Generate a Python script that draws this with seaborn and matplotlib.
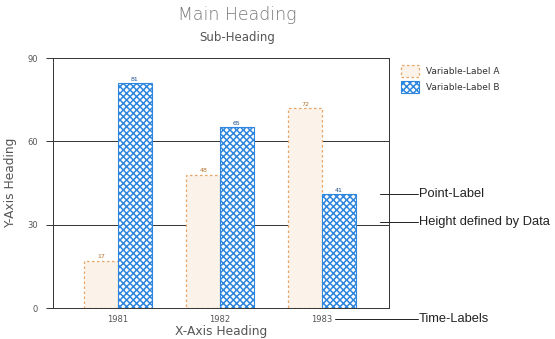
import numpy as np
import pandas as pd
import matplotlib
matplotlib.use("Agg")
import matplotlib.pyplot as plt
from matplotlib.lines import Line2D
from matplotlib.patches import Patch
import seaborn as sns

# data
years = ["1981", "1982", "1983"]
series = ["Variable-Label A", "Variable-Label B"]
values_a = [17, 48, 72]
values_b = [81, 65, 41]
y_ticks = [0, 30, 60, 90]

df = pd.DataFrame({
    "year": years * 2,
    "series": [series[0]] * 3 + [series[1]] * 3,
    "value": values_a + values_b,
})

sns.set_theme(style="white")
plt.rcParams["font.family"] = ["DejaVu Sans"]
plt.rcParams["hatch.linewidth"] = 1.1

orange = "#e9a466"
fill_a = "#fbf3ea"
blue = "#2f86de"
grey = "#555555"

fig = plt.figure(figsize=(5.55, 3.39), dpi=100)
ax = fig.add_axes([53 / 555, 1 - 308 / 339, 336 / 555, 250 / 339])

sns.barplot(data=df, x="year", y="value", hue="series", ax=ax,
            width=0.66, gap=0, legend=False, saturation=1,
            palette=[fill_a, "white"])

cont_a, cont_b = ax.containers
for bar in cont_a:
    bar.set_facecolor(fill_a)
    bar.set_edgecolor(orange)
    bar.set_linestyle((0, (2, 2)))
    bar.set_linewidth(0.9)
for bar in cont_b:
    bar.set_facecolor("white")
    bar.set_edgecolor(blue)
    bar.set_hatch("xxxxx")
    bar.set_linewidth(0.8)

ax.bar_label(cont_a, labels=[str(v) for v in values_a], fontsize=4.5,
             color="#b8732e", padding=1)
ax.bar_label(cont_b, labels=[str(v) for v in values_b], fontsize=4.5,
             color="#1c4f8a", padding=1)

ax.set_ylim(0, 90)
ax.set_xlim(-0.637, 2.657)
ax.set_yticks(y_ticks)
ax.set_yticklabels([str(t) for t in y_ticks], fontsize=6, color=grey)
ax.set_xticklabels(years, fontsize=6, color=grey)
ax.tick_params(axis="y", length=5, width=0.7, color="#333333", pad=6, direction="out", left=True)
ax.tick_params(axis="x", length=0, pad=5)
for y in [30, 60]:
    ax.axhline(y, color="#333333", lw=0.7, zorder=0)
for side in ["top", "right", "left", "bottom"]:
    ax.spines[side].set_color("#333333")
    ax.spines[side].set_linewidth(0.7)

ax.set_xlabel("X-Axis Heading", fontsize=8.8, color=grey, labelpad=1)
ax.set_ylabel("Y-Axis Heading", fontsize=8.8, color=grey, labelpad=7)

fig.text(237 / 555, 1 - 15 / 339, "Main Heading", ha="center", va="center",
         fontsize=12.5, color="#777777", fontweight="light")
fig.text(237 / 555, 1 - 37 / 339, "Sub-Heading", ha="center", va="center",
         fontsize=8.5, color="#555555")

handles = [
    Patch(facecolor=fill_a, edgecolor=orange, linestyle=(0, (2, 2)), linewidth=0.9),
    Patch(facecolor="white", edgecolor=blue, hatch="xxxxx", linewidth=0.8),
]
leg = fig.legend(handles, series, loc="upper left", bbox_to_anchor=(393 / 555, 1 - 57 / 339),
                 frameon=False, fontsize=6.5, handlelength=2.0, handleheight=1.6,
                 labelspacing=0.5, handletextpad=0.7)
for t in leg.get_texts():
    t.set_color("#333333")

# callouts on the right
notes = [("Point-Label", 194, 380), ("Height defined by Data", 222, 380), ("Time-Labels", 319, 335)]
for text, ypix, x0 in notes:
    yf = 1 - ypix / 339
    fig.add_artist(Line2D([x0 / 555, 418 / 555], [yf, yf], transform=fig.transFigure,
                          color="#222222", lw=0.7))
    fig.text(419 / 555, yf, text, ha="left", va="center", fontsize=9.3,
             color="#222222", family=["Liberation Sans", "DejaVu Sans"])

fig.savefig("out.png", dpi=100)
